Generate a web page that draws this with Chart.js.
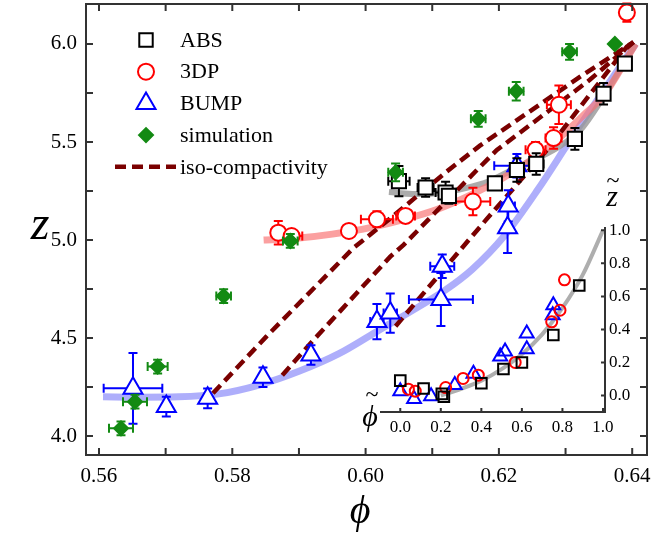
<!DOCTYPE html>
<html>
<head>
<meta charset="utf-8">
<script src="https://cdn.jsdelivr.net/npm/chart.js@4.4.0/dist/chart.umd.min.js"></script>
<style>
  html, body { margin: 0; padding: 0; background: #fff; }
  #wrap { position: relative; width: 654px; height: 533px; }
  #main { position: absolute; left: 0; top: 0; }
  #inset { position: absolute; left: 330px; top: 170px; }
</style>
</head>
<body>
<div id="wrap">
  <canvas id="main" width="654" height="533"></canvas>
  <canvas id="inset" width="324" height="280"></canvas>
</div>
<script>
// axis ticks
const phiTicks = [0.56, 0.58, 0.60, 0.62, 0.64];
const phiMinor = [0.57, 0.59, 0.61, 0.63];
const zTicks = [4.0, 4.5, 5.0, 5.5, 6.0];
const zMinor = [4.25, 4.75, 5.25, 5.75];
const insetTicks = [0.0, 0.2, 0.4, 0.6, 0.8, 1.0];

// ABS
const absPhi = [0.6050, 0.6090, 0.6120, 0.6125, 0.6194, 0.6227, 0.6256, 0.6314, 0.6357, 0.6389];
const absZ = [5.300, 5.268, 5.242, 5.225, 5.289, 5.357, 5.388, 5.516, 5.746, 5.900];
const absPhiErr = [0.0016, 0.0012, 0.0015, 0.0010, 0.0009, 0.0010, 0.0011, 0.0006, 0.0006, 0];
const absZErr = [0.077, 0.047, 0.055, 0.040, 0.020, 0.060, 0.055, 0.055, 0.055, 0];

// 3DP
const dpPhi = [0.5869, 0.5889, 0.5975, 0.6017, 0.6060, 0.6161, 0.6255, 0.6282, 0.6290, 0.6392];
const dpZ = [5.037, 5.020, 5.046, 5.106, 5.123, 5.196, 5.460, 5.520, 5.690, 6.160];
const dpPhiErr = [0.0010, 0.0016, 0, 0.0024, 0.0014, 0.0026, 0.0015, 0.0012, 0.0018, 0.0006];
const dpZErr = [0.060, 0.020, 0, 0.040, 0.030, 0.070, 0.040, 0.055, 0.098, 0.047];

// BUMP
const bumpPhi = [0.5651, 0.5701, 0.5763, 0.5846, 0.5918, 0.6017, 0.6037, 0.6113, 0.6115, 0.6213, 0.6214, 0.6227];
const bumpZ = [4.243, 4.150, 4.192, 4.300, 4.413, 4.584, 4.627, 4.696, 4.866, 5.063, 5.174, 5.379];
const bumpPhiErr = [0.0044, 0.0005, 0.0005, 0.0005, 0.0005, 0.0010, 0.0010, 0.0048, 0.0018, 0.0006, 0.0010, 0.0034];
const bumpZErr = [0.180, 0.050, 0.050, 0.050, 0.050, 0.090, 0.100, 0.135, 0.060, 0.130, 0.080, 0.060];

// simulation
const simPhi = [0.5633, 0.5654, 0.5688, 0.5787, 0.5887, 0.6045, 0.6169, 0.6226, 0.6306, 0.6374];
const simZ = [4.039, 4.175, 4.354, 4.714, 4.995, 5.345, 5.618, 5.759, 5.960, 6.000];
const simPhiErr = [0.0018, 0.0018, 0.0015, 0.0011, 0.0011, 0.0011, 0.0011, 0.0011, 0.0011, 0];
const simZErr = [0.035, 0.035, 0.035, 0.035, 0.035, 0.045, 0.040, 0.047, 0.040, 0];

// fitted curves
const redFitPhi = [0.5847, 0.5900, 0.5950, 0.6007, 0.6058, 0.6108, 0.6158, 0.6208, 0.6258, 0.6284, 0.6325, 0.6359, 0.6405];
const redFitZ = [5.000, 5.010, 5.030, 5.063, 5.105, 5.157, 5.230, 5.320, 5.430, 5.500, 5.630, 5.746, 6.000];
const grayFitPhi = [0.6035, 0.6070, 0.6110, 0.6150, 0.6185, 0.6227, 0.6287, 0.6322, 0.6355, 0.6405];
const grayFitZ = [5.245, 5.235, 5.240, 5.265, 5.300, 5.370, 5.470, 5.560, 5.720, 6.000];
const blueFitPhi = [0.5606, 0.5660, 0.5720, 0.5780, 0.5840, 0.5900, 0.5960, 0.6020, 0.6080, 0.6120, 0.6160, 0.6208, 0.6259, 0.6309, 0.6359, 0.6405];
const blueFitZ = [4.200, 4.198, 4.200, 4.215, 4.260, 4.330, 4.420, 4.540, 4.660, 4.745, 4.850, 5.020, 5.260, 5.520, 5.770, 6.000];

// iso-compactivity lines
const iso1Phi = [0.5771, 0.5851, 0.5982, 0.6037, 0.6083, 0.6122, 0.6171, 0.6322, 0.6402];
const iso1Z = [4.218, 4.507, 4.960, 5.110, 5.240, 5.350, 5.480, 5.833, 6.010];
const iso2Phi = [0.5875, 0.5922, 0.6037, 0.6057, 0.6167, 0.6197, 0.6336, 0.6402];
const iso2Z = [4.310, 4.490, 4.915, 4.975, 5.357, 5.459, 5.816, 6.010];
const iso3Phi = [0.6045, 0.6142, 0.6180, 0.6272, 0.6392, 0.6402];
const iso3Z = [4.560, 4.949, 5.100, 5.459, 5.986, 6.010];

// inset (rescaled)
const insetAbsX = [0.000, 0.115, 0.205, 0.215, 0.400, 0.509, 0.600, 0.755, 0.883];
const insetAbsY = [0.090, 0.042, 0.010, -0.008, 0.074, 0.160, 0.200, 0.366, 0.666];
const insetDpX = [0.040, 0.074, 0.224, 0.310, 0.385, 0.567, 0.747, 0.788, 0.810];
const insetDpY = [0.038, 0.026, 0.048, 0.103, 0.123, 0.200, 0.446, 0.516, 0.700];
const insetBumpX = [0.000, 0.068, 0.152, 0.269, 0.361, 0.493, 0.517, 0.624, 0.624, 0.752, 0.755];
const insetBumpY = [0.026, -0.022, -0.004, 0.063, 0.131, 0.236, 0.266, 0.280, 0.376, 0.486, 0.546];
const insetFitX = [0.20, 0.30, 0.40, 0.50, 0.60, 0.70, 0.80, 0.90, 1.00];
const insetFitY = [0.00, 0.04, 0.09, 0.16, 0.25, 0.37, 0.53, 0.73, 1.00];

const FONT = '"Liberation Serif", "Times New Roman", serif';
const AXIS = '#333';
const GREEN = '#138a13';
const MAROON = '#7a0000';
const PHI = '\u03D5';

const pts = (xs, ys) => xs.map((x, i) => ({ x: x, y: ys[i] }));

function curve(xs, ys, color, width) {
  return { data: pts(xs, ys), showLine: true, borderColor: color, borderWidth: width,
    pointRadius: 0, cubicInterpolationMode: 'monotone', order: 10 };
}
function dashed(xs, ys) {
  return { data: pts(xs, ys), showLine: true, borderColor: MAROON, borderWidth: 4.5,
    borderDash: [11, 6], pointRadius: 0, order: 5 };
}
function markers(xs, ys, ex, ey, style, color, r, fill) {
  return { data: pts(xs, ys), errX: ex, errY: ey, pointStyle: style, pointRadius: r,
    pointBorderWidth: 2, borderColor: color, pointBorderColor: color,
    pointBackgroundColor: fill, showLine: false, order: 0 };
}
// drop the label overhang padding so the plot box sits where we want it
function fixX(h) {
  return s => { s.height = h; s.paddingLeft = 0; s.paddingRight = 0; };
}
function fixY(w) {
  return s => { s.width = w; s.paddingTop = 0; s.paddingBottom = 0; };
}

// error bars drawn under each marker set
const errorBars = {
  id: 'errorBars',
  beforeDatasetDraw(chart, args) {
    const ds = chart.data.datasets[args.index];
    if (!ds.errX) return;
    const ctx = chart.ctx, sx = chart.scales.x, sy = chart.scales.y, cap = 4.5;
    ctx.save();
    ctx.strokeStyle = ds.borderColor;
    ctx.lineWidth = 2;
    ctx.beginPath();
    ds.data.forEach((p, i) => {
      const cx = sx.getPixelForValue(p.x), cy = sy.getPixelForValue(p.y);
      const ey = ds.errY[i], ex = ds.errX[i];
      if (ey) {
        const y1 = sy.getPixelForValue(p.y + ey), y2 = sy.getPixelForValue(p.y - ey);
        ctx.moveTo(cx, y1); ctx.lineTo(cx, y2);
        ctx.moveTo(cx - cap, y1); ctx.lineTo(cx + cap, y1);
        ctx.moveTo(cx - cap, y2); ctx.lineTo(cx + cap, y2);
      }
      if (ex) {
        const x1 = sx.getPixelForValue(p.x - ex), x2 = sx.getPixelForValue(p.x + ex);
        ctx.moveTo(x1, cy); ctx.lineTo(x2, cy);
        ctx.moveTo(x1, cy - cap); ctx.lineTo(x1, cy + cap);
        ctx.moveTo(x2, cy - cap); ctx.lineTo(x2, cy + cap);
      }
    });
    ctx.stroke();
    ctx.restore();
  }
};

// frame, inward ticks, titles and legend for the main plot
const mainFrame = {
  id: 'mainFrame',
  afterDraw(chart) {
    const { ctx, chartArea: a, scales: { x, y } } = chart;
    ctx.save();
    ctx.strokeStyle = AXIS;
    ctx.lineWidth = 2;
    ctx.strokeRect(a.left, a.top, a.right - a.left, a.bottom - a.top);
    ctx.beginPath();
    phiTicks.concat(phiMinor).forEach(v => {
      const px = x.getPixelForValue(v);
      ctx.moveTo(px, a.bottom); ctx.lineTo(px, a.bottom - 7);
      ctx.moveTo(px, a.top); ctx.lineTo(px, a.top + 7);
    });
    zTicks.concat(zMinor).forEach(v => {
      const py = y.getPixelForValue(v);
      ctx.moveTo(a.left, py); ctx.lineTo(a.left + 7, py);
      ctx.moveTo(a.right, py); ctx.lineTo(a.right - 7, py);
    });
    ctx.stroke();

    // axis titles
    ctx.fillStyle = '#000';
    ctx.textAlign = 'center';
    ctx.textBaseline = 'middle';
    ctx.font = 'italic 48px ' + FONT;
    ctx.fillText('z', 40, 226);
    ctx.font = 'italic 40px ' + FONT;
    ctx.fillText(PHI, 360, 512);

    // legend
    const rows = [
      { label: 'ABS', style: 'rect', color: '#000', r: 9.5 },
      { label: '3DP', style: 'circle', color: '#ff0000', r: 8 },
      { label: 'BUMP', style: 'triangle', color: '#0000ff', r: 11 },
      { label: 'simulation', style: 'rectRot', color: GREEN, r: 7, fill: GREEN },
      { label: 'iso-compactivity', dash: true }
    ];
    ctx.font = '22px ' + FONT;
    ctx.textAlign = 'left';
    rows.forEach((row, i) => {
      const ly = 40 + i * 31.7;
      if (row.dash) {
        ctx.strokeStyle = MAROON;
        ctx.lineWidth = 4.5;
        ctx.setLineDash([11, 6]);
        ctx.beginPath(); ctx.moveTo(115, ly); ctx.lineTo(176, ly); ctx.stroke();
        ctx.setLineDash([]);
      } else {
        ctx.strokeStyle = row.color;
        ctx.fillStyle = row.fill || '#fff';
        ctx.lineWidth = 2;
        Chart.helpers.drawPoint(ctx, { pointStyle: row.style, radius: row.r, rotation: 0, borderWidth: 2 }, 146, ly);
      }
      ctx.fillStyle = '#000';
      ctx.fillText(row.label, 180, ly + 1);
    });
    ctx.restore();
  }
};

new Chart(document.getElementById('main'), {
  type: 'scatter',
  data: {
    datasets: [
      curve(redFitPhi, redFitZ, 'rgba(250, 120, 120, 0.7)', 7),
      curve(grayFitPhi, grayFitZ, 'rgba(150, 150, 150, 0.8)', 6),
      curve(blueFitPhi, blueFitZ, 'rgba(140, 140, 250, 0.7)', 7),
      dashed(iso1Phi, iso1Z),
      dashed(iso2Phi, iso2Z),
      dashed(iso3Phi, iso3Z),
      markers(simPhi, simZ, simPhiErr, simZErr, 'rectRot', GREEN, 7, GREEN),
      markers(absPhi, absZ, absPhiErr, absZErr, 'rect', '#000', 10, '#fff'),
      markers(dpPhi, dpZ, dpPhiErr, dpZErr, 'circle', '#ff0000', 8, '#fff'),
      markers(bumpPhi, bumpZ, bumpPhiErr, bumpZErr, 'triangle', '#0000ff', 11, '#fff')
    ]
  },
  options: {
    responsive: false,
    animation: false,
    events: [],
    layout: { autoPadding: false, padding: { top: 4, right: 7, left: 0, bottom: 0 } },
    plugins: { legend: { display: false }, tooltip: { enabled: false } },
    scales: {
      x: {
        type: 'linear', min: 0.55805, max: 0.64222,
        grid: { display: false, drawTicks: false },
        border: { display: false },
        afterBuildTicks: s => { s.ticks = phiTicks.map(v => ({ value: v })); },
        afterFit: fixX(78),
        ticks: { color: '#000', padding: 9, font: { family: FONT, size: 21 },
          maxRotation: 0, callback: v => v.toFixed(2) }
      },
      y: {
        type: 'linear', min: 3.903, max: 6.204,
        grid: { display: false, drawTicks: false },
        border: { display: false },
        afterBuildTicks: s => { s.ticks = zTicks.map(v => ({ value: v })); },
        afterFit: fixY(86),
        ticks: { color: '#000', padding: 9, font: { family: FONT, size: 21 },
          callback: v => v.toFixed(1) }
      }
    }
  },
  plugins: [errorBars, mainFrame]
});

// inset: bottom and right axis only
const insetFrame = {
  id: 'insetFrame',
  afterDraw(chart) {
    const { ctx, chartArea: a, scales: { x, y } } = chart;
    ctx.save();
    ctx.strokeStyle = AXIS;
    ctx.lineWidth = 2;
    ctx.beginPath();
    ctx.moveTo(a.left, a.bottom); ctx.lineTo(a.right, a.bottom); ctx.lineTo(a.right, a.top);
    insetTicks.forEach(v => {
      const px = x.getPixelForValue(v), py = y.getPixelForValue(v);
      ctx.moveTo(px, a.bottom); ctx.lineTo(px, a.bottom - 4);
      ctx.moveTo(a.right, py); ctx.lineTo(a.right - 4, py);
    });
    ctx.stroke();
    ctx.fillStyle = '#000';
    ctx.textAlign = 'center';
    ctx.textBaseline = 'middle';
    ctx.font = 'italic 30px ' + FONT;
    ctx.fillText('z', 282, 28);
    ctx.fillText(PHI, 40, 248);
    ctx.font = '24px ' + FONT;
    ctx.fillText('~', 283, 12);
    ctx.fillText('~', 42, 226);
    ctx.restore();
  }
};

new Chart(document.getElementById('inset'), {
  type: 'scatter',
  data: {
    datasets: [
      { data: pts(insetFitX, insetFitY), showLine: true, borderColor: 'rgba(160, 160, 160, 0.85)',
        borderWidth: 4, pointRadius: 0, cubicInterpolationMode: 'monotone', order: 10 },
      markers(insetAbsX, insetAbsY, null, null, 'rect', '#000', 7.5, 'rgba(0,0,0,0)'),
      markers(insetDpX, insetDpY, null, null, 'circle', '#ff0000', 5.5, 'rgba(0,0,0,0)'),
      markers(insetBumpX, insetBumpY, null, null, 'triangle', '#0000ff', 8, 'rgba(0,0,0,0)')
    ]
  },
  options: {
    responsive: false,
    animation: false,
    events: [],
    layout: { autoPadding: false, padding: { top: 57, left: 50, right: 0, bottom: 0 } },
    plugins: { legend: { display: false }, tooltip: { enabled: false } },
    scales: {
      x: {
        type: 'linear', min: -0.1, max: 1.01,
        grid: { display: false, drawTicks: false },
        border: { display: false },
        afterBuildTicks: s => { s.ticks = insetTicks.map(v => ({ value: v })); },
        afterFit: fixX(38),
        ticks: { color: '#000', padding: 5, font: { family: FONT, size: 17 },
          maxRotation: 0, callback: v => v.toFixed(1) }
      },
      y: {
        type: 'linear', position: 'right', min: -0.1, max: 1.02,
        grid: { display: false, drawTicks: false },
        border: { display: false },
        afterBuildTicks: s => { s.ticks = insetTicks.map(v => ({ value: v })); },
        afterFit: fixY(49),
        ticks: { color: '#000', padding: 4, font: { family: FONT, size: 17 },
          callback: v => v.toFixed(1) }
      }
    }
  },
  plugins: [insetFrame]
});
</script>
</body>
</html>
